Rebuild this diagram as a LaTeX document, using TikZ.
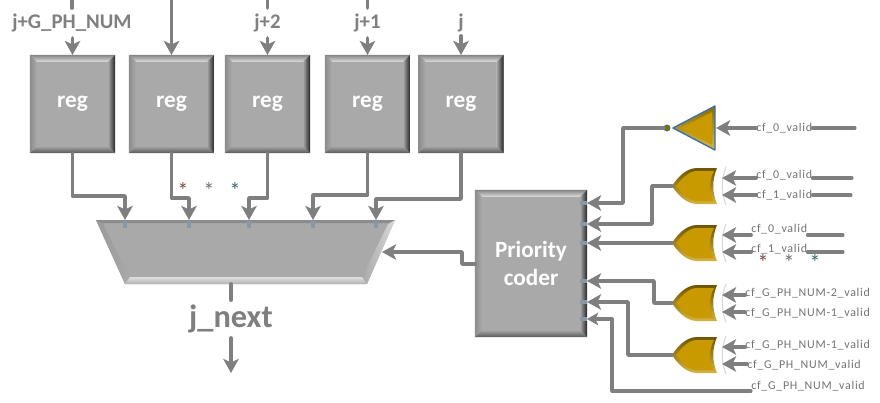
\documentclass[tikz,border=0pt]{standalone}
\usepackage{fontspec}
\setmainfont{Carlito}
\newfontfamily\validfont[LetterSpace=6]{Carlito}
\usetikzlibrary{arrows.meta}
\definecolor{wiregray}{HTML}{7F7F7F}
\definecolor{boxgray}{HTML}{A9A9A9}
\definecolor{gategold}{HTML}{C89A00}
\definecolor{gateblue}{HTML}{41719C}
\definecolor{starred}{HTML}{7A4A4A}
\definecolor{stargray}{HTML}{6F7070}
\definecolor{starteal}{HTML}{3F6A6A}
\tikzset{
  wire/.style={line width=2.7pt,color=wiregray,-{Stealth[length=10pt,width=11pt,inset=2.5pt]}},
  plainwire/.style={line width=2.7pt,color=wiregray},
  thinwire/.style={line width=2.2pt,color=wiregray},
  regbox/.style={fill=boxgray,minimum width=2.125cm,minimum height=2.45cm,inner sep=0pt,outer sep=0pt,text=white,font=\fontsize{16.5}{18}\selectfont\bfseries},
  coderbox/.style={regbox,minimum width=2.8cm,minimum height=3.675cm,align=center,font=\fontsize{16.5}{20}\selectfont\bfseries},
  toplabel/.style={text=wiregray,inner sep=0pt,font=\fontsize{14.8}{16}\selectfont\bfseries},
  validlabel/.style={text=wiregray!90!black,inner sep=0pt,anchor=west,font=\fontsize{8.5}{10}\validfont},
  starmark/.style={inner sep=0pt,font=\fontsize{16}{17}\selectfont},
  site/.style={fill=gateblue!30!boxgray}
}
% bevels of a box, #1 is the node
\newcommand{\bevelbox}[1]{
  \shade[top color=gray!95,bottom color=gray!25] (#1.north west)--(#1.north east)--([shift={(-7,7)}]#1.north east)--([shift={(7,7)}]#1.north west)--cycle;
  \shade[left color=gray!90,right color=boxgray] (#1.north west)--([shift={(7,7)}]#1.north west)--([shift={(7,-7)}]#1.south west)--(#1.south west)--cycle;
  \shade[left color=boxgray,right color=black!85] (#1.north east)--([shift={(-7,7)}]#1.north east)--([shift={(-7,-7)}]#1.south east)--(#1.south east)--cycle;
  \shade[top color=boxgray,bottom color=black!65] (#1.south west)--(#1.south east)--([shift={(-7,-7)}]#1.south east)--([shift={(7,-7)}]#1.south west)--cycle;
}
% or gate, #1 name, #2 middle y
\newcommand{\orgate}[2]{
  \begin{scope}[shift={(672,#2)}]
    \shade[top color=gategold!55!black,bottom color=gategold!75!white] (45,-18)--(25,-18) .. controls (14,-18) and (5,-8) .. (0,0) .. controls (5,8) and (14,18) .. (25,18)--(45,18) .. controls (40,6) and (40,-6) .. (45,-18);
    \fill[gategold] (42,-15)--(25,-15) .. controls (16,-15) and (9,-6) .. (4,0) .. controls (9,6) and (16,15) .. (25,15)--(41,15) .. controls (37,5) and (37,-6) .. (42,-15);
    \draw[gray!30,line width=0.8pt] (54,-19) .. controls (49,-7) and (49,7) .. (54,19);
    \coordinate (#1out) at (0,0);
    \coordinate (#1a) at (50,-8);
    \coordinate (#1b) at (50,9);
  \end{scope}
}
\begin{document}
\begin{tikzpicture}[line cap=round,line join=round,x=0.025cm,y=-0.025cm]
\useasboundingbox (0,0) rectangle (880,402);
% registers
\foreach \n/\x in {1/72.5,2/171.5,3/267.5,4/367.5,5/461}{
  \node[regbox] (reg\n) at (\x,104) {};
  \bevelbox{reg\n}
  \node[regbox,fill=none,minimum width=0pt,minimum height=0pt] (regtext\n) at (\x,104) {reg};
}
% inputs on top
\node[toplabel] (jg) at (72,23) {j+G\_PH\_NUM};
\node[toplabel] (j2) at (267.5,23) {j+2};
\node[toplabel] (j1) at (367.5,23) {j+1};
\node[toplabel] (j0) at (461,23) {j};
\draw[plainwire] (72,0) -- (72,8);
\draw[plainwire] (267.5,0) -- (267.5,8);
\draw[plainwire] (367.5,0) -- (367.5,8);
\draw[wire] (72.5,38) -- (reg1.north);
\draw[wire] (171.5,0) -- (reg2.north);
\draw[wire] (267.5,38) -- (reg3.north);
\draw[wire] (367.5,38) -- (reg4.north);
\draw[wire] (461,36) -- (reg5.north);
% mux
\coordinate (muxa) at (96,220);
\coordinate (muxb) at (395,220);
\coordinate (muxc) at (367,284);
\coordinate (muxd) at (125,284);
\fill[boxgray] (muxa)--(muxb)--(muxc)--(muxd)--cycle;
\fill[gray!90] (muxa)--(muxb)--(392,223)--(99,223)--cycle;
\shade[left color=gray!80,right color=boxgray] (muxa)--(103,224)--(130,277)--(muxd)--cycle;
\shade[left color=boxgray,right color=gray!30] (muxb)--(388,224)--(362,277)--(muxc)--cycle;
\shade[top color=gray!25,bottom color=gray!60] (muxd)--(130,277)--(362,277)--(muxc)--cycle;
\foreach \x in {125,189,249,313,376}{
  \fill[site] (\x-2,221) rectangle (\x+2,228);
}
\coordinate (mux1) at (125,220);
\coordinate (mux2) at (189,220);
\coordinate (mux3) at (249,220);
\coordinate (mux4) at (313,220);
\coordinate (mux5) at (376,220);
\coordinate (muxsel) at (382,252);
\coordinate (muxout) at (231,284);
\draw[wire] (reg1.south) |- (125,196) -- (mux1);
\draw[wire] (reg2.south) |- (189,198) -- (mux2);
\draw[wire] (reg3.south) |- (249,198) -- (mux3);
\draw[wire] (reg4.south) |- (313,195) -- (mux4);
\draw[wire] (reg5.south) |- (376,199) -- (mux5);
\node[starmark,text=starred] (stara) at (183,191) {*};
\node[starmark,text=stargray] (starb) at (209,191) {*};
\node[starmark,text=starteal] (starc) at (235,191) {*};
% output
\node[text=wiregray,inner sep=0pt,font=\fontsize{23}{25}\selectfont\bfseries] (jnext) at (231,319) {j\_next};
\draw[plainwire] (muxout) -- (231,300);
\draw[wire] (231,338) -- (231,373);
% priority coder
\node[coderbox] (coder) at (531,263.5) {};
\bevelbox{coder}
\node[coderbox,fill=none,minimum width=0pt,minimum height=0pt] (codertext) at (531,263.5) {Priority\\coder};
\foreach \y in {203,224,243,281,302,319}{
  \fill[site] (580,\y-2) rectangle (587,\y+2);
}
\coordinate (coder1) at (587,203);
\coordinate (coder2) at (587,224);
\coordinate (coder3) at (587,243);
\coordinate (coder4) at (587,281);
\coordinate (coder5) at (587,302);
\coordinate (coder6) at (587,319);
\draw[wire] (coder.west |- 0,264) -- (462,264) -- (462,252) -- (muxsel);
% not gate
\shade[top color=gategold!70!black,bottom color=gategold!70!white,draw=gateblue,line width=1pt] (715,106)--(673,128)--(715,150)--cycle;
\fill[gategold] (712,112)--(681,128)--(712,145)--cycle;
\node[circle,fill=gategold!70!black,draw=gateblue,line width=0.7pt,inner sep=0pt,minimum size=4.2pt] (bubble) at (667,128) {};
\coordinate (notin) at (716,128);
\orgate{ga}{186}
\orgate{gb}{243}
\orgate{gc}{303}
\orgate{gd}{355}
\draw[wire] (bubble.west) -- (623,128) -- (623,203) -- (coder1);
\draw[wire] (gaout) -- (652,186) -- (652,224) -- (coder2);
\draw[wire] (gbout) -- (coder3);
\draw[wire] (gcout) -- (654,303) -- (654,281) -- (coder4);
\draw[wire] (gdout) -- (628,355) -- (628,302) -- (coder5);
% input labels
\node[validlabel] (vn) at (756,128) {cf\_0\_valid};
\node[validlabel] (va) at (756,175) {cf\_0\_valid};
\node[validlabel] (vb) at (756,195) {cf\_1\_valid};
\node[validlabel] (vc) at (751,229) {cf\_0\_valid};
\node[validlabel] (vd) at (751,249) {cf\_1\_valid};
\node[validlabel] (ve) at (745,293) {cf\_G\_PH\_NUM-2\_valid};
\node[validlabel] (vf) at (745,313) {cf\_G\_PH\_NUM-1\_valid};
\node[validlabel] (vg) at (745,345) {cf\_G\_PH\_NUM-1\_valid};
\node[validlabel] (vh) at (747,365) {cf\_G\_PH\_NUM\_valid};
\node[validlabel] (vi) at (751,386) {cf\_G\_PH\_NUM\_valid};
\draw[wire] (vn.west) -- (notin);
\draw[thinwire] (vn.east) -- (855,128);
\draw[wire] (va.west |- gaa) -- (gaa);
\draw[thinwire] (va.east |- gaa) -- (852,178);
\draw[wire] (vb.west |- gab) -- (gab);
\draw[thinwire] (vb.east |- gab) -- (851,195);
\draw[wire] (vc.west |- gba) -- (gba);
\draw[thinwire] (vc.east |- gba) -- (843,235);
\draw[wire] (vd.west |- gbb) -- (gbb);
\draw[thinwire] (vd.east |- gbb) -- (843,252);
\draw[wire] (ve.west |- gca) -- (gca);
\draw[wire] (vf.west |- gcb) -- (gcb);
\draw[wire] (vg.west |- gda) -- (gda);
\draw[wire] (vh.west |- gdb) -- (gdb);
\draw[thinwire,-{Stealth[length=8pt,width=9pt,inset=2pt]}] (vi.west |- 0,391) -- (612,391) -- (612,319) -- (coder6);
\node[starmark,text=starred] (stard) at (763,263) {*};
\node[starmark,text=stargray] (stare) at (789,263) {*};
\node[starmark,text=starteal] (starf) at (815,263) {*};
\end{tikzpicture}
\end{document}
